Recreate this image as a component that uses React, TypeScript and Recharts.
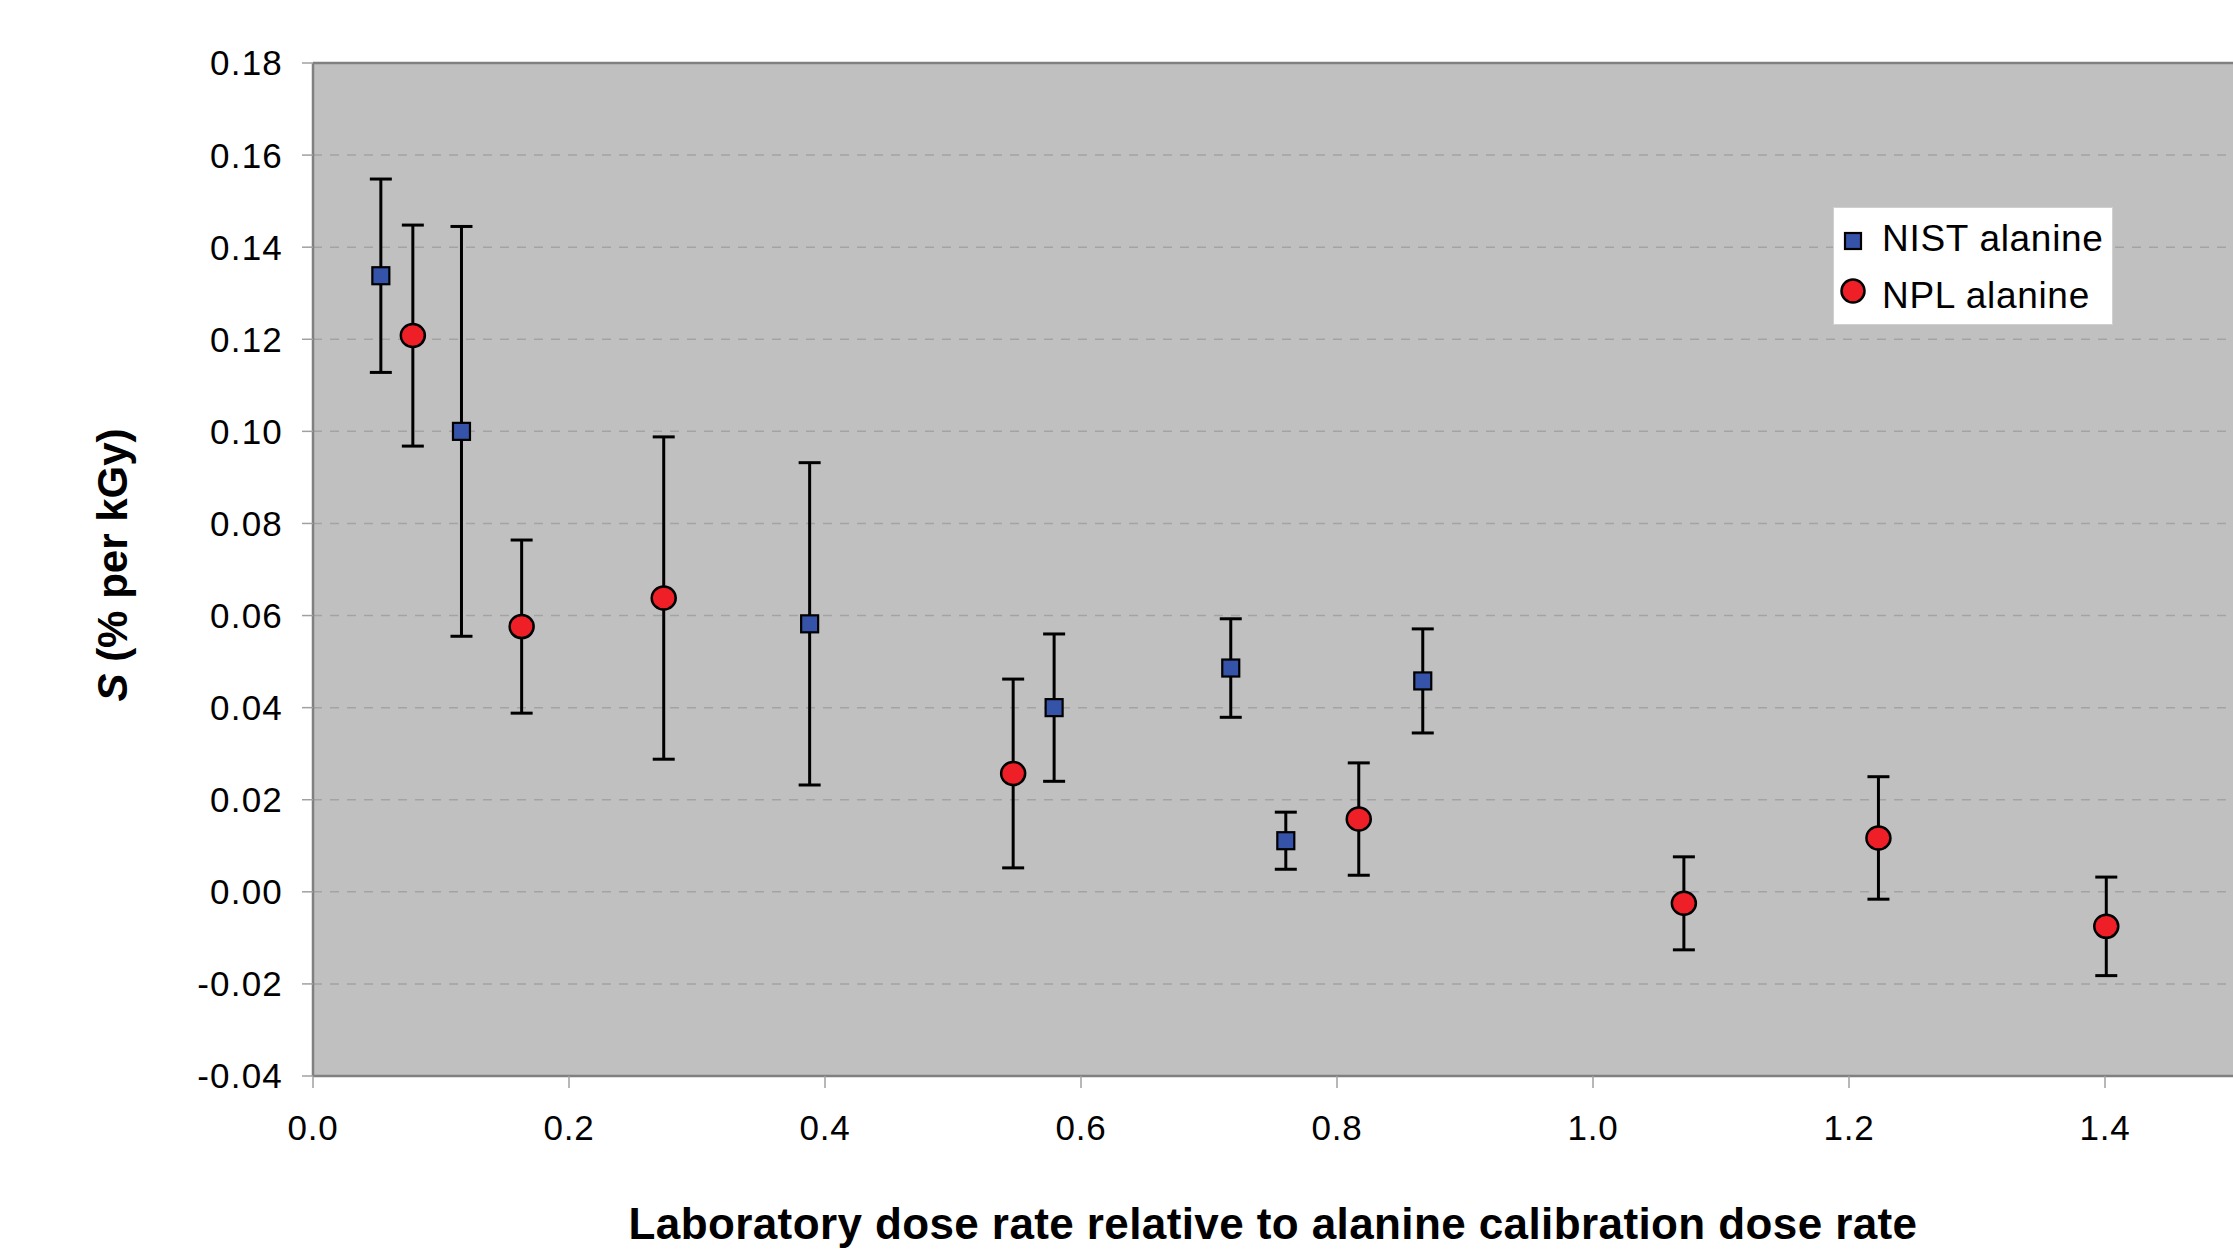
import React from 'react';
import { ScatterChart, Scatter, XAxis, YAxis, CartesianGrid, ErrorBar, ReferenceLine } from 'recharts';

// NIST alanine points
const nistRate = [0.053, 0.116, 0.388, 0.579, 0.717, 0.760, 0.867];
const nistS = [0.1338, 0.100, 0.0582, 0.040, 0.0486, 0.0111, 0.0458];
const nistErr = [0.021, 0.0445, 0.035, 0.016, 0.0107, 0.0062, 0.0113];

// NPL alanine points
const nplRate = [0.078, 0.163, 0.274, 0.547, 0.817, 1.071, 1.223, 1.401];
const nplS = [0.1208, 0.0576, 0.0638, 0.0257, 0.0158, -0.0025, 0.0117, -0.0075];
const nplErr = [0.024, 0.0188, 0.035, 0.0205, 0.0122, 0.0101, 0.0133, 0.0107];

const xTicks = [0, 0.2, 0.4, 0.6, 0.8, 1.0, 1.2, 1.4];
const yTicks = [-0.04, -0.02, 0, 0.02, 0.04, 0.06, 0.08, 0.1, 0.12, 0.14, 0.16, 0.18];

const nistData = nistRate.map((x, i) => ({ x, y: nistS[i], err: nistErr[i] }));
const nplData = nplRate.map((x, i) => ({ x, y: nplS[i], err: nplErr[i] }));

const FONT = '"Liberation Sans", Arial, sans-serif';
const BLUE = '#3553a8';
const RED = '#ee1f26';

if (typeof document !== 'undefined') {
  document.body.style.margin = '0';
  document.body.style.overflow = 'hidden';
}

const SquareMark = (props: any) => {
  const { cx, cy } = props;
  if (cx == null || cy == null) return null;
  return <rect x={cx - 8.5} y={cy - 8.5} width={17} height={17} fill={BLUE} stroke="#000" strokeWidth={2.2} />;
};

const CircleMark = (props: any) => {
  const { cx, cy } = props;
  if (cx == null || cy == null) return null;
  return <ellipse cx={cx} cy={cy} rx={12} ry={11.5} fill={RED} stroke="#000" strokeWidth={2.5} />;
};

const LegendBox = () => (
  <div
    style={{
      position: 'absolute',
      left: 1833,
      top: 207,
      width: 280,
      height: 118,
      background: '#fff',
      border: '1px solid #d0d0d0',
      boxSizing: 'border-box',
      fontFamily: FONT,
      fontSize: 37,
      letterSpacing: 0.7,
      color: '#000',
    }}
  >
    <svg width={40} height={118} style={{ position: 'absolute', left: 0, top: 0 }}>
      <rect x={11} y={25} width={16} height={16} fill={BLUE} stroke="#000" strokeWidth={2.2} />
      <circle cx={19} cy={83} r={11.5} fill={RED} stroke="#000" strokeWidth={2.5} />
    </svg>
    <div style={{ position: 'absolute', left: 48, top: 11, lineHeight: '40px', whiteSpace: 'nowrap' }}>NIST alanine</div>
    <div style={{ position: 'absolute', left: 48, top: 68, lineHeight: '40px', whiteSpace: 'nowrap' }}>NPL alanine</div>
  </div>
);

export default function App() {
  return (
    <div style={{ position: 'relative', width: 2233, height: 1251, background: '#fff' }}>
      <ScatterChart width={2233} height={1251} margin={{ top: 63, right: 0, bottom: 0, left: 0 }}>
        <CartesianGrid
          vertical={false}
          fill="#c0c0c0"
          stroke="#a3a3a3"
          strokeWidth={1.5}
          strokeDasharray="9 8"
        />
        <XAxis
          type="number"
          dataKey="x"
          domain={[0, 1.5]}
          ticks={xTicks}
          allowDataOverflow
          height={175}
          tickFormatter={(v: number) => v.toFixed(1)}
          tick={{ fontFamily: FONT, fontSize: 35, fill: '#000', letterSpacing: 0.8 }}
          tickSize={12}
          tickMargin={27}
          tickLine={{ stroke: '#a0a0a0', strokeWidth: 1.5 }}
          axisLine={{ stroke: '#808080', strokeWidth: 2.5 }}
          label={{
            content: () => (
              <text x={1273} y={1239} textAnchor="middle" fontFamily={FONT} fontSize={44} letterSpacing={0.4} fontWeight="bold" fill="#000">
                Laboratory dose rate relative to alanine calibration dose rate
              </text>
            ),
          }}
        />
        <YAxis
          type="number"
          dataKey="y"
          domain={[-0.04, 0.18]}
          ticks={yTicks}
          allowDataOverflow
          width={313}
          tickFormatter={(v: number) => v.toFixed(2)}
          tick={{ fontFamily: FONT, fontSize: 35, fill: '#000', letterSpacing: 1.2 }}
          tickSize={11}
          tickMargin={19}
          tickLine={{ stroke: '#a0a0a0', strokeWidth: 1.5 }}
          axisLine={{ stroke: '#808080', strokeWidth: 2.5 }}
          label={{
            content: () => (
              <text
                x={112}
                y={565}
                transform="rotate(-90 112 565)"
                textAnchor="middle"
                dominantBaseline="central"
                fontFamily={FONT}
                fontSize={42}
                fontWeight="bold"
                fill="#000"
              >
                <tspan fontStyle="italic">S</tspan> (% per kGy)
              </text>
            ),
          }}
        />
        <ReferenceLine y={0.18} stroke="#808080" strokeWidth={2.5} />
        <Scatter name="NIST alanine" data={nistData} fill={BLUE} shape={SquareMark} isAnimationActive={false}>
          <ErrorBar dataKey="err" direction="y" width={11} stroke="#000" strokeWidth={3} isAnimationActive={false} />
        </Scatter>
        <Scatter name="NPL alanine" data={nplData} fill={RED} shape={CircleMark} isAnimationActive={false}>
          <ErrorBar dataKey="err" direction="y" width={11} stroke="#000" strokeWidth={3} isAnimationActive={false} />
        </Scatter>
      </ScatterChart>
      <LegendBox />
    </div>
  );
}
